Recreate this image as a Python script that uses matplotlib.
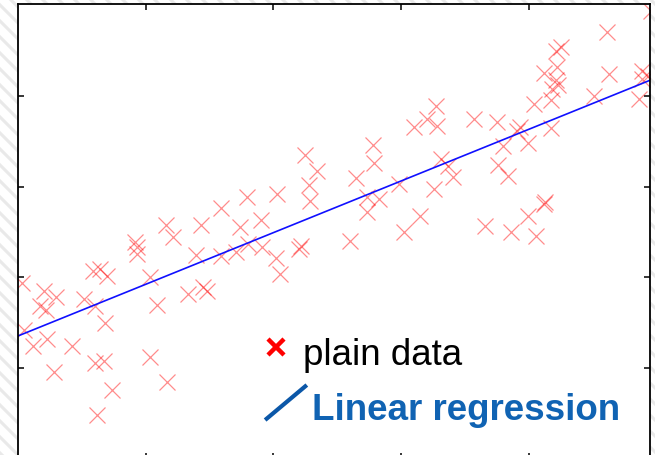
import matplotlib
matplotlib.use("Agg")
import matplotlib.pyplot as plt
import numpy as np

# ---- data ----
x_data = [0.03, 0.20, 0.30, 0.17, 0.22, 0.52, 0.60, 0.05, 0.12, 0.23,
          0.42, 0.68, 0.28, 0.60, 0.67, 1.03, 0.74, 1.17, 0.62, 0.59,
          0.64, 0.70, 0.92, 0.93, 0.93, 1.03, 1.09, 1.16, 1.21, 1.43,
          1.39, 1.59, 1.59, 1.33, 1.45, 1.48, 1.79, 2.03, 2.25, 2.34,
          2.28, 2.29, 1.74, 1.90, 1.80, 1.91, 1.71, 2.02, 2.20, 2.22,
          2.05, 2.60, 2.65, 2.78, 2.79, 2.73, 2.83, 2.73, 2.98, 3.15,
          3.02, 3.26, 3.31, 3.37, 3.41, 3.27, 3.20, 3.28, 3.10, 4.96,
          4.61, 4.21, 4.25, 4.22, 4.12, 4.63, 4.21, 4.18, 4.23, 4.17,
          4.04, 4.51, 4.86, 4.89, 4.93, 4.89, 3.57, 3.75, 3.91, 3.93,
          4.17, 3.99, 3.80, 3.76, 3.84, 4.12, 4.13, 3.99, 3.66, 3.86,
          4.06]
y_data = [1.94, 1.85, 1.78, 1.69, 1.64, 1.76, 1.69, 1.42, 1.24, 1.32,
          1.24, 1.50, 0.96, 1.06, 1.08, 1.12, 0.76, 0.85, 0.48, 2.07,
          2.09, 2.02, 2.39, 2.33, 2.26, 2.00, 1.70, 2.58, 2.44, 2.58,
          2.25, 2.76, 2.24, 1.82, 1.89, 1.85, 2.89, 2.92, 3.35, 3.17,
          3.02, 2.84, 2.56, 2.63, 2.37, 2.33, 2.28, 2.21, 2.31, 2.35,
          2.04, 2.40, 3.09, 3.46, 3.26, 2.89, 2.86, 2.72, 3.03, 2.68,
          2.50, 2.97, 3.30, 3.23, 3.11, 3.89, 3.74, 3.67, 3.66, 4.93,
          4.70, 4.49, 4.54, 4.32, 4.25, 4.24, 4.17, 4.07, 4.12, 3.95,
          3.91, 4.00, 3.96, 4.27, 4.22, 4.19, 3.74, 3.71, 3.61, 3.66,
          3.65, 3.48, 3.45, 3.24, 3.12, 2.81, 2.83, 2.68, 2.57, 2.50,
          2.46]
fit_intercept = 1.355
fit_slope = 0.569
legend_labels = ["plain data", "Linear regression"]

W, H = 655, 456
fig = plt.figure(figsize=(W / 100, H / 100), dpi=100)
fig.patch.set_facecolor("white")

# striped background (decoration)
bg = fig.add_axes([0, 0, 1, 1], zorder=-5)
bg.set_xlim(0, W)
bg.set_ylim(0, H)
bg.axis("off")
for c in np.arange(-4, W + H + 16, 16):
    bg.plot([c, c - H - 20], [-10, H + 10], color="#e9e9e9", lw=2.2,
            solid_capstyle="butt")

ax = fig.add_axes([18 / W, 1 - 460 / H, 632 / W, 455 / H], zorder=1)
ax.set_facecolor("white")
ax.set_xlim(0, 4.949)
ax.set_ylim(0, 5.011)
ax.set_xticks([1, 2, 3, 4])
ax.set_yticks([1, 2, 3, 4])
ax.tick_params(direction="in", length=4.5, width=1.1, top=True, right=True,
               labelbottom=False, labelleft=False)
for s in ax.spines.values():
    s.set_linewidth(1.3)
    s.set_color("black")

ax.plot(x_data, y_data, linestyle="none", marker="x", markersize=11,
        markeredgewidth=0.9, color="red", alpha=0.45)

xl = np.array(ax.get_xlim())
ax.plot(xl, fit_intercept + fit_slope * xl, color="#1010ff", lw=1.2)

# legend (custom)
ax.plot([0.408], [0.246], transform=ax.transAxes, marker="x", color="red",
        markersize=11, markeredgewidth=3.2, linestyle="none", clip_on=False)
ax.text(0.451, 0.209, legend_labels[0], transform=ax.transAxes,
        fontsize=26.5, family="Liberation Sans", color="black",
        ha="left", va="baseline")
ax.plot([0.391, 0.457], [0.0857, 0.1626], transform=ax.transAxes,
        color="#0b57a8", lw=3.0, solid_capstyle="butt", clip_on=False)
ax.text(0.465, 0.088, legend_labels[1], transform=ax.transAxes,
        fontsize=26.5, family="Liberation Sans", fontweight="bold",
        color="#1063b3", ha="left", va="baseline")

fig.savefig("out.png", dpi=100)
